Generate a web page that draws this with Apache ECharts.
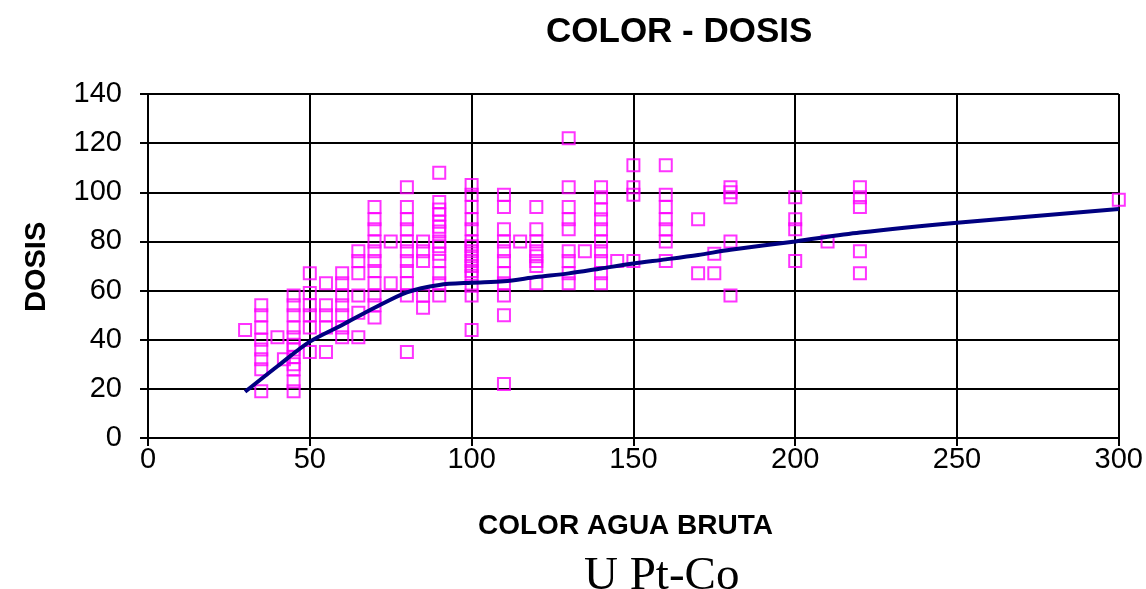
<!DOCTYPE html>
<html>
<head>
<meta charset="utf-8">
<script src="https://cdn.jsdelivr.net/npm/echarts@6/dist/echarts.min.js"></script>
<style>
html,body{margin:0;padding:0;background:#fff;}
#chart{width:1146px;height:589px;}
</style>
</head>
<body>
<div id="chart"></div>
<script>
// Color levels (x) and measured dosis values at each level (y)
const colorLevels = [30, 35, 40, 42, 45, 50, 55, 60, 65, 70, 75, 80, 85, 90, 100, 110, 115, 120, 130, 135, 140, 145, 150, 160, 170, 175, 180, 200, 210, 220, 300];
const dosisByLevel = [
  [44],
  [19, 28, 32, 36, 40, 45, 50, 54],
  [41],
  [32],
  [19, 23, 28, 30, 33, 36, 38, 41, 45, 50, 54, 58],
  [35, 45, 50, 54, 59, 67],
  [35, 45, 50, 54, 63],
  [41, 45, 50, 54, 58, 63, 67],
  [41, 51, 58, 67, 72, 76],
  [49, 54, 58, 63, 68, 72, 76, 80, 85, 89, 94],
  [63, 80],
  [35, 58, 63, 68, 72, 76, 80, 85, 89, 94, 102],
  [53, 58, 72, 76, 80],
  [58, 63, 67, 72, 75, 78, 80, 84, 86, 88, 91, 93, 96, 108],
  [44, 58, 62, 66, 68, 70, 72, 74, 76, 78, 80, 85, 89, 94, 99, 103],
  [22, 50, 58, 63, 67, 72, 76, 80, 85, 94, 99],
  [80],
  [63, 70, 72, 74, 76, 80, 85, 94],
  [63, 67, 72, 76, 85, 89, 94, 102, 122],
  [76],
  [63, 67, 72, 76, 80, 85, 89, 93, 98, 102],
  [72],
  [72, 99, 102, 111],
  [72, 80, 85, 89, 94, 99, 111],
  [67, 89],
  [67, 75],
  [58, 80, 98, 100, 102],
  [72, 85, 89, 98],
  [80],
  [67, 76, 94, 98, 102],
  [97]
];
// Trend line
const trendX = [30, 40, 50, 60, 70, 80, 90, 100, 110, 120, 130, 140, 150, 160, 170, 180, 200, 220, 250, 300];
const trendY = [18.8, 29.2, 39.2, 46, 53, 59.3, 62.3, 63.2, 63.8, 65.5, 67, 69, 71, 72.7, 74.5, 76.6, 80, 83.6, 87.6, 93.2];
// Tick settings
const xTicks = {min: 0, max: 300, step: 50};
const yTicks = {min: 0, max: 140, step: 20};
const titles = {main: 'COLOR - DOSIS', x: 'COLOR AGUA BRUTA', unit: 'U Pt-Co', y: 'DOSIS'};

const scatterData = [];
colorLevels.forEach((c, i) => dosisByLevel[i].forEach(d => scatterData.push([c, d])));
const trendData = trendX.map((x, i) => [x, trendY[i]]);

const chart = echarts.init(document.getElementById('chart'));
const sans = 'Liberation Sans, Arial, sans-serif';
chart.setOption({
  backgroundColor: '#ffffff',
  animation: false,
  title: [
    {text: titles.main, left: 541, top: 10, textStyle: {fontFamily: sans, fontSize: 35, fontWeight: 'bold', color: '#000'}},
    {text: titles.x, top: 512, left: 478, padding: 0, textStyle: {fontFamily: sans, fontSize: 28, fontWeight: 'bold', color: '#000'}},
    {text: titles.unit, left: 584, top: 553, padding: 0, textStyle: {fontFamily: 'Liberation Serif, serif', fontSize: 47, fontWeight: 'normal', color: '#000'}}
  ],
  graphic: [
    {type: 'text', x: 22, y: 312, rotation: Math.PI / 2, style: {text: titles.y, font: 'bold 29px Liberation Sans', fill: '#000'}}
  ],
  grid: {left: 148, right: 20, top: 94, bottom: 151, containLabel: false},
  xAxis: {
    type: 'value', min: xTicks.min, max: xTicks.max, interval: xTicks.step,
    axisLine: {show: true, onZero: false, lineStyle: {color: '#000', width: 2}},
    axisTick: {show: true, length: 8, lineStyle: {color: '#000', width: 2}},
    axisLabel: {fontFamily: sans, fontSize: 29, color: '#000', margin: 7},
    splitLine: {show: true, lineStyle: {color: '#000', width: 2}}
  },
  yAxis: {
    type: 'value', min: yTicks.min, max: yTicks.max, interval: yTicks.step,
    axisLine: {show: true, onZero: false, lineStyle: {color: '#000', width: 2}},
    axisTick: {show: true, length: 8, lineStyle: {color: '#000', width: 2}},
    axisLabel: {fontFamily: sans, fontSize: 29, color: '#000', margin: 26},
    splitLine: {show: true, lineStyle: {color: '#000', width: 2}}
  },
  series: [
    {
      type: 'scatter', data: scatterData, symbol: 'rect', symbolSize: 12,
      itemStyle: {color: 'rgba(0,0,0,0)', borderColor: '#FF00FF', borderWidth: 2}
    },
    {
      type: 'line', data: trendData, showSymbol: false, smooth: 0.3,
      lineStyle: {color: '#000080', width: 4}, z: 3
    }
  ]
});
</script>
</body>
</html>
